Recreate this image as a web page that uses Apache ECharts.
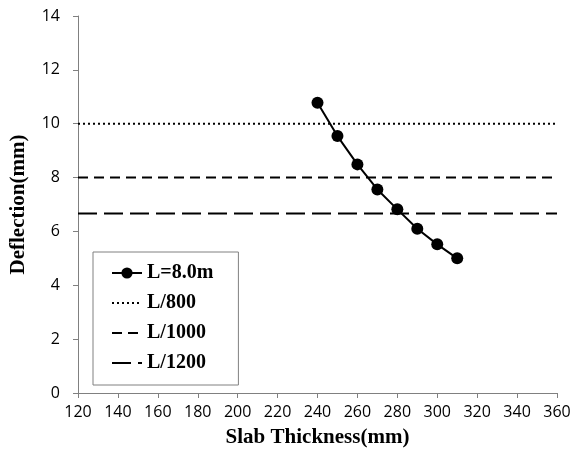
<!DOCTYPE html>
<html>
<head>
<meta charset="utf-8">
<script src="https://cdn.jsdelivr.net/npm/echarts@6/dist/echarts.min.js"></script>
<style>
  html, body { margin: 0; padding: 0; background: #fff; }
  #chart { width: 574px; height: 459px; }
</style>
</head>
<body>
<div id="chart"></div>
<script>
// slab thickness (mm) vs deflection (mm), span 8.0 m
const thickness = [240, 250, 260, 270, 280, 290, 300, 310];
const deflection = [10.78, 9.54, 8.49, 7.56, 6.82, 6.10, 5.52, 5.00];

// deflection limits for L = 8000 mm
const limitNames = ['L/800', 'L/1000', 'L/1200'];
const limitValues = [10, 8, 6.67];
const limitDash = [[2, 3], [10, 6], [19, 7]];
const xRange = [120, 360];

const chart = echarts.init(document.getElementById('chart'));

const titleFont = {
  fontFamily: 'Liberation Serif',
  fontWeight: 'bold',
  fontSize: 21,
  color: '#000'
};

const limitSeries = limitNames.map((name, i) => ({
  name: name,
  type: 'line',
  data: [[xRange[0], limitValues[i]], [xRange[1], limitValues[i]]],
  symbol: 'none',
  silent: true,
  lineStyle: { color: '#000', width: 2, type: limitDash[i] },
  // keeps the legend icon to just the line
  itemStyle: { color: 'transparent' }
}));

chart.setOption({
  animation: false,
  grid: { left: 78, right: 17, top: 16, bottom: 66 },
  legend: {
    orient: 'vertical',
    left: 93,
    top: 252,
    padding: [11, 25, 12, 18],
    itemGap: 10,
    itemWidth: 30,
    itemHeight: 14,
    borderColor: '#808080',
    borderWidth: 1,
    textStyle: {
      fontFamily: 'Liberation Serif',
      fontWeight: 'bold',
      fontSize: 20,
      color: '#000'
    },
    data: ['L=8.0m'].concat(limitNames)
  },
  xAxis: {
    type: 'value',
    min: xRange[0],
    max: xRange[1],
    interval: 20,
    name: 'Slab Thickness(mm)',
    nameLocation: 'middle',
    nameGap: 34,
    nameTextStyle: titleFont,
    axisLine: { lineStyle: { color: '#808080' } },
    axisTick: { lineStyle: { color: '#808080' }, length: 5 },
    axisLabel: { fontFamily: 'Open Sans', fontSize: 16, color: '#000', margin: 11 },
    splitLine: { show: false }
  },
  yAxis: {
    type: 'value',
    min: 0,
    max: 14,
    interval: 2,
    name: 'Deflection(mm)',
    nameLocation: 'middle',
    nameGap: 49,
    nameTextStyle: titleFont,
    axisLine: { show: true, lineStyle: { color: '#808080' } },
    axisTick: { show: true, lineStyle: { color: '#808080' }, length: 5 },
    axisLabel: { fontFamily: 'Open Sans', fontSize: 16, color: '#000', margin: 18 },
    splitLine: { show: false }
  },
  series: [{
    name: 'L=8.0m',
    type: 'line',
    data: thickness.map((t, i) => [t, deflection[i]]),
    symbol: 'circle',
    symbolSize: 12,
    lineStyle: { color: '#000', width: 2 },
    itemStyle: { color: '#000' },
    z: 5
  }].concat(limitSeries)
});
</script>
</body>
</html>
